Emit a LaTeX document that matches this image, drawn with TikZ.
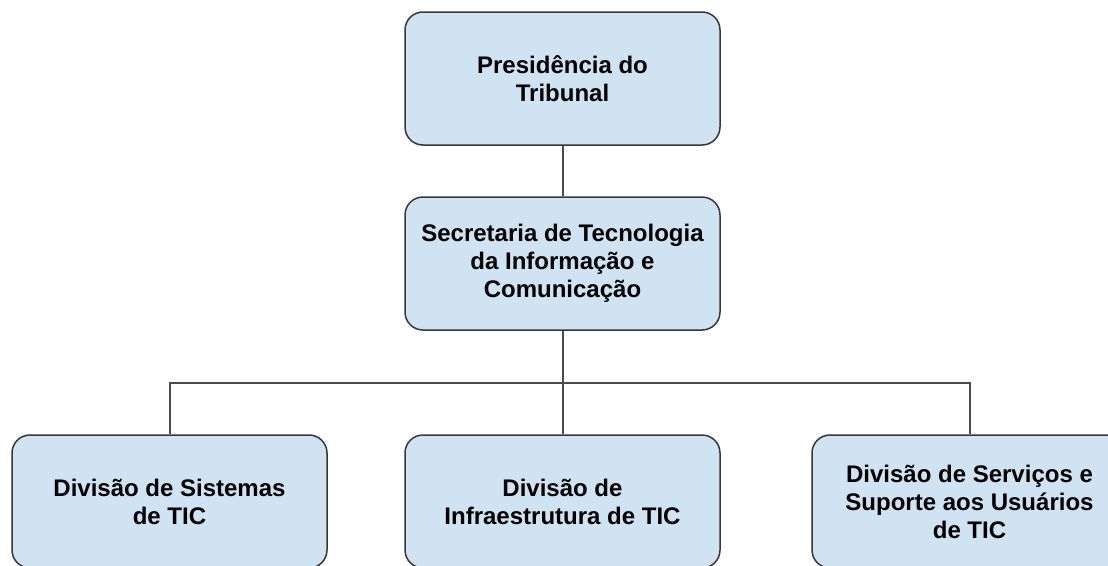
\documentclass[tikz,border=0pt]{standalone}
\usepackage{fontspec}
\setmainfont{Liberation Sans}
\definecolor{boxfill}{RGB}{208,227,242}
\definecolor{boxline}{RGB}{55,55,55}
\definecolor{conline}{RGB}{75,75,75}
\begin{document}
\begin{tikzpicture}[x=1pt,y=-1pt,
  orgbox/.style={draw=boxline,line width=1.5pt,fill=boxfill,rounded corners=18pt,
    minimum width=315pt,minimum height=133pt,inner sep=0pt,align=center,
    font=\fontsize{24}{28}\selectfont\bfseries},
  conn/.style={draw=conline,line width=2pt}]
\useasboundingbox (0,0) rectangle (1108,565);
\clip (0,0) rectangle (1108,565);
\fill[white] (0,0) rectangle (1108,565);
\node[orgbox] (pres) at (562.5,78.5) {Presidência do\\Tribunal};
\node[orgbox] (sec) at (562.5,263.5) {Secretaria de Tecnologia\\da Informação e\\Comunicação};
\node[orgbox] (sis) at (169.5,501.5) {Divisão de Sistemas\\de TIC};
\node[orgbox] (inf) at (562.5,501.5) {Divisão de\\Infraestrutura de TIC};
\node[orgbox] (ser) at (969.5,501.5) {Divisão de Serviços e\\Suporte aos Usuários\\de TIC};
\coordinate (bus) at (562.5,383);
\draw[conn] (pres.south) -- (sec.north);
\draw[conn] (sec.south) -- (inf.north);
\draw[conn] (sis.north) |- (bus) -| (ser.north);
\end{tikzpicture}
\end{document}
